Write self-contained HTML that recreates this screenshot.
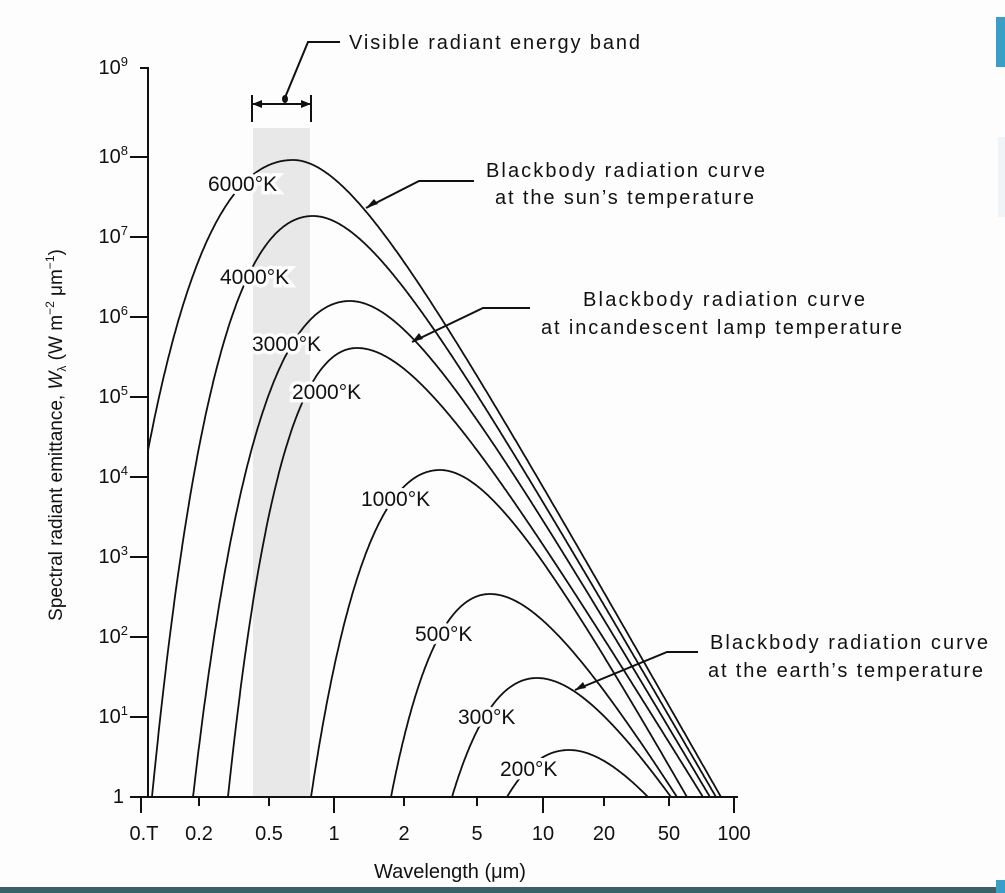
<!DOCTYPE html>
<html><head><meta charset="utf-8"><style>
html,body{margin:0;padding:0;background:#fdfdfd;}
svg{display:block;}
text{font-family:"Liberation Sans",sans-serif;fill:#111;}
</style></head><body>
<svg id="s" width="1005" height="893" viewBox="0 0 1005 893" xmlns="http://www.w3.org/2000/svg">
<rect width="1005" height="893" fill="#fdfdfd"/>
<defs><clipPath id="cp"><rect x="148" y="0" width="660" height="797"/></clipPath></defs>
<rect x="253" y="128" width="57" height="669" fill="#e8e8e8"/>
<g id="curves" clip-path="url(#cp)" fill="none" stroke="#111" stroke-width="1.8"></g>
<g stroke="#111" stroke-width="2" fill="none">
<path d="M140 68 H148 V797 H738"/>
<path d="M130 157H148M130 237H148M130 317H148M130 397H148M130 477H148M130 557H148M130 637H148M130 717H148M130 797H148"/>
<path d="M141 797V813M199 797V806M269 797V806M334 797V813M404 797V806M477 797V806M543 797V813M604 797V806M669 797V806M734 797V813"/>
<path d="M252 95V122M311 95V122M252 104H311"/>
<path d="M284 100 L308 42 H340"/>
<path d="M474 181 H419 L366 208"/>
<path d="M530 308 H483 L412 342"/>
<path d="M698 652 H667 L575 690"/>
</g>
<g fill="#111">
<path d="M252 104 L262 100 L262 108Z"/><path d="M311 104 L301 100 L301 108Z"/>
<ellipse cx="285" cy="99" rx="3" ry="4"/>
<path d="M366 208 L374 199 L378 204Z"/>
<path d="M412 342 L419 333 L423 339Z"/>
<path d="M575 690 L583 682 L586 688Z"/>
</g>
<g font-size="20" text-anchor="end">
<text x="128" y="74">10<tspan font-size="13" dy="-8">9</tspan></text>
<text x="128" y="163">10<tspan font-size="13" dy="-8">8</tspan></text>
<text x="128" y="243">10<tspan font-size="13" dy="-8">7</tspan></text>
<text x="128" y="323">10<tspan font-size="13" dy="-8">6</tspan></text>
<text x="128" y="403">10<tspan font-size="13" dy="-8">5</tspan></text>
<text x="128" y="483">10<tspan font-size="13" dy="-8">4</tspan></text>
<text x="128" y="563">10<tspan font-size="13" dy="-8">3</tspan></text>
<text x="128" y="643">10<tspan font-size="13" dy="-8">2</tspan></text>
<text x="128" y="723">10<tspan font-size="13" dy="-8">1</tspan></text>
<text x="124" y="803">1</text>
</g>
<text transform="translate(62,435) rotate(-90)" font-size="19" text-anchor="middle">Spectral radiant emittance, <tspan font-style="italic">W</tspan><tspan font-size="12" dy="4">λ</tspan><tspan dy="-4"> (W m</tspan><tspan font-size="12" dy="-8">−2</tspan><tspan dy="8"> μm</tspan><tspan font-size="12" dy="-8">−1</tspan><tspan dy="8">)</tspan></text>
<g font-size="20" text-anchor="middle">
<text x="144" y="840">0.T</text><text x="199" y="840">0.2</text><text x="269" y="840">0.5</text>
<text x="334" y="840">1</text><text x="404" y="840">2</text><text x="477" y="840">5</text>
<text x="543" y="840">10</text><text x="604" y="840">20</text><text x="669" y="840">50</text><text x="734" y="840">100</text>
</g>
<text x="450" y="878" font-size="20" text-anchor="middle">Wavelength (μm)</text>
<g font-size="21" stroke="#fdfdfd" stroke-width="7" paint-order="stroke">
<text x="208" y="191">6000°K</text>
<text x="220" y="284">4000°K</text>
<text x="252" y="351">3000°K</text>
<text x="292" y="399">2000°K</text>
<text x="361" y="506">1000°K</text>
<text x="415" y="641">500°K</text>
<text x="458" y="724">300°K</text>
<text x="500" y="776">200°K</text>
</g>
<g font-size="20">
<text x="349" y="49" textLength="291">Visible radiant energy band</text>
<text x="486" y="177" textLength="279">Blackbody radiation curve</text>
<text x="495" y="204" textLength="259">at the sun’s temperature</text>
<text x="583" y="306" textLength="282">Blackbody radiation curve</text>
<text x="541" y="334" textLength="361">at incandescent lamp temperature</text>
<text x="710" y="649" textLength="278">Blackbody radiation curve</text>
<text x="708" y="677" textLength="275">at the earth’s temperature</text>
</g>
<rect x="996" y="17" width="9" height="50" fill="#3a9fc6"/>
<rect x="998" y="137" width="7" height="80" fill="#eef4f7"/>
<rect x="0" y="887" width="1005" height="6" fill="#3b6168"/>
<rect x="996" y="880" width="9" height="13" fill="#3a9fc6"/>
</svg>
<script>
(function(){
var c1=3.742e8,c2=14388;
function W(l,T){return c1/Math.pow(l,5)/(Math.exp(c2/(l*T))-1);}
function X0(l){return 141+197*Math.log10(l/0.1);}
function Y0(w){return 797-80*Math.log10(w);}
// T, peakX, peakY, startX(target at y=797, or null), endX
var cs=[[6000,293,160,null,721],[4000,313,216,152,716],[3000,350,301,193,710],[2000,357,348,228,703],[1000,440,470,311,687],[500,490,594,391,677],[300,537,678,452,671],[200,569,750,507,648]];
var g=document.getElementById('curves'),ns='http://www.w3.org/2000/svg';
cs.forEach(function(c){
 var T=c[0],lp=2898/T,xp=X0(lp),dx=c[1]-xp,dy=c[2]-Y0(W(lp,T));
 // find raw x where y0+dy = 797 on each side
 function findX(lo,hi,left){
  for(var k=0;k<80;k++){var m=Math.sqrt(lo*hi);var y=Y0(W(m,T))+dy;
   if(left){ if(y>797) lo=m; else hi=m; } else { if(y<797) lo=m; else hi=m; } }
  return X0(Math.sqrt(lo*hi));
 }
 var xs=findX(0.01,lp,true), xe=findX(lp,1000,false);
 var kL=c[3]===null?1.2:(c[1]-c[3])/(xp-xs);
 var kR=(c[4]-c[1])/(xe-xp);
 var d='',n=0;
 for(var i=0;i<=900;i++){
  var l=0.05*Math.pow(10,i*3.5/900);
  var w=W(l,T); if(!(w>0)) continue;
  var y=Y0(w)+dy; if(y>830){ if(n>0 && l>lp) break; continue; }
  var x0=X0(l); var x=c[1]+(x0-xp)*(x0<xp?kL:kR);
  d+=(n?'L':'M')+x.toFixed(1)+' '+y.toFixed(1); n++;
 }
 var p=document.createElementNS(ns,'path'); p.setAttribute('d',d); g.appendChild(p);
});
})();
</script>
</body></html>
